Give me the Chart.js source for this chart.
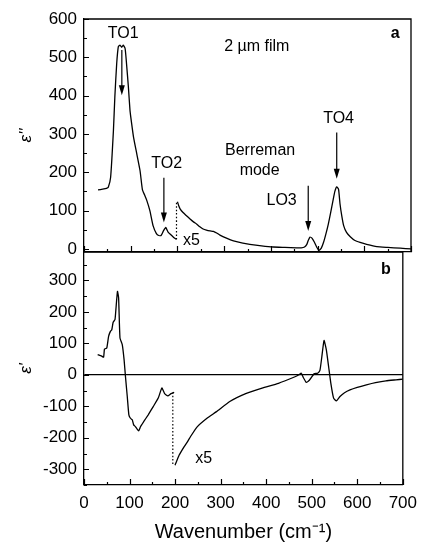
<!DOCTYPE html>
<html>
<head>
<meta charset="utf-8">
<script src="https://cdn.jsdelivr.net/npm/chart.js@4.4.1/dist/chart.umd.min.js"></script>
<style>
  html, body { margin: 0; padding: 0; background: #fff; }
  #wrap { position: relative; width: 425px; height: 544px; }
  #wrap canvas { position: absolute; left: 0; top: 0; }
</style>
</head>
<body>
<div id="wrap">
  <canvas id="imChart" width="425" height="544"></canvas>
  <canvas id="reChart" width="425" height="544"></canvas>
</div>
<script>
// eps'' (panel a), raw part up to 200 cm-1 and the x5 part above
const imLowX = [30, 40, 48, 52, 57, 63, 66, 70, 73.5, 77, 80.7, 84, 88, 91, 95, 98.5, 102, 106, 113, 120, 125, 130, 134, 141, 148, 155, 160, 165, 170, 175, 180, 186, 192, 198];
const imLowY = [154, 156, 158, 161, 187, 309, 396, 484, 528, 532, 526, 532, 523, 484, 423, 361, 327, 292, 248, 204, 155, 140, 128, 100, 60, 40, 35, 35, 47, 56, 44, 37, 30, 25];
const imHighX = [200, 203, 206, 212, 220, 227, 235, 241, 248, 255, 262, 270, 277, 285, 291, 305, 320, 340, 355, 380, 405, 430, 455, 465, 472, 477, 480, 484, 488, 493, 498, 503, 508, 513, 518, 523, 528, 533, 537, 541, 545, 548, 552, 556, 562, 570, 580, 591, 605, 627, 650, 677, 700];
const imHighY = [123, 112, 104, 95, 86, 78, 70, 65, 58, 52, 49, 47, 46, 41, 36, 28, 21, 15, 12, 8, 5, 4, 3, 3, 5, 12, 22, 31, 28, 18, 5, -4, 2, 18, 40, 65, 95, 126, 150, 162, 155, 118, 85, 60, 43, 32, 22, 17, 12, 6, 4, 2, 0];
const imJumpX = [198, 198];
const imJumpY = [25, 123];

// eps' (panel b)
const reLowX = [30, 38, 43, 45, 50, 54, 58, 61, 64, 68, 70, 73.5, 76, 79, 84, 88, 91, 95, 98.5, 102, 106, 109, 113, 120, 124, 131, 141, 152, 163, 171, 177, 184, 191, 198];
const reLowY = [64, 60, 56, 82, 85, 122, 138, 143, 167, 175, 207, 265, 244, 117, 96, 48, -5, -69, -127, -138, -143, -159, -165, -178, -165, -149, -127, -101, -74, -42, -60, -67, -60, -56];
const reHighX = [200, 209, 220, 227, 234, 248, 270, 291, 320, 355, 391, 427, 462, 472, 477, 482, 488, 493, 498, 505, 513, 518, 522, 527, 532, 537, 542, 548, 554, 562, 572, 584, 600, 620, 640, 663, 685, 700];
const reHighY = [-287, -255, -228, -213, -196, -166, -138, -117, -85, -60, -42, -27, -7, 0, 5, -10, -24, -20, -11, 3, 5, 14, 55, 109, 80, 27, -27, -74, -83, -69, -57, -48, -40, -32, -25, -19, -16, -14];
const reJumpX = [195, 195];
const reJumpY = [-56, -287];

const xTicks = [0, 100, 200, 300, 400, 500, 600, 700];

const FONT = '"Liberation Sans", Arial, Helvetica, sans-serif';
Chart.defaults.font.family = FONT;
Chart.defaults.color = '#000';

const pts = (xs, ys) => xs.map((x, i) => ({ x: x, y: ys[i] }));
const line = (xs, ys, dash) => ({
    data: pts(xs, ys),
    borderColor: '#000',
    borderWidth: dash ? 1.2 : 1.3,
    borderDash: dash ? [1.5, 2] : [],
    pointRadius: 0,
    tension: 0.15,
    fill: false
});

// frame, inward ticks, arrows and labels
const decor = {
    id: 'decor',
    afterDatasetsDraw(chart, args, opts) {
        const { ctx, chartArea: a, scales: { x, y } } = chart;
        ctx.save();
        ctx.strokeStyle = '#000';
        ctx.fillStyle = '#000';
        ctx.lineWidth = 1.3;
        ctx.beginPath();
        ctx.moveTo(a.left, a.top);
        ctx.lineTo(a.right, a.top);
        ctx.lineTo(a.right, a.bottom);
        ctx.stroke();

        ctx.lineWidth = 1.2;
        ctx.beginPath();
        x.ticks.forEach(t => {
            if (t.value % 50) return;
            const px = Math.round(x.getPixelForValue(t.value)) + 0.5;
            ctx.moveTo(px, a.bottom);
            ctx.lineTo(px, a.bottom - (t.value % 100 ? 3 : 6));
        });
        y.ticks.forEach(t => {
            if (t.value % 50) return;
            const py = Math.round(y.getPixelForValue(t.value)) + 0.5;
            ctx.moveTo(a.left, py);
            ctx.lineTo(a.left + (t.value % 100 ? 3 : 5), py);
        });
        ctx.stroke();

        (opts.arrows || []).forEach(([xv, y0, y1]) => {
            const px = x.getPixelForValue(xv);
            const p0 = y.getPixelForValue(y0);
            const p1 = y.getPixelForValue(y1);
            ctx.beginPath();
            ctx.moveTo(px, p0);
            ctx.lineTo(px, p1 - 8);
            ctx.stroke();
            ctx.beginPath();
            ctx.moveTo(px, p1);
            ctx.lineTo(px - 3, p1 - 10);
            ctx.lineTo(px + 3, p1 - 10);
            ctx.closePath();
            ctx.fill();
        });

        ctx.textAlign = 'center';
        ctx.textBaseline = 'middle';
        (opts.labels || []).forEach(l => {
            ctx.font = (l.bold ? 'bold ' : '') + (l.size || 16) + 'px ' + FONT;
            ctx.fillText(l.text, x.getPixelForValue(l.x), y.getPixelForValue(l.y));
        });
        ctx.restore();
    }
};

const tickLabel = v => (v % 100 === 0 ? v : '');

function yScale(min, max, title, zeroLine) {
    return {
        type: 'linear',
        min: min,
        max: max,
        afterFit: s => { s.width = 84; },
        ticks: { stepSize: 50, maxTicksLimit: 40, includeBounds: false, autoSkip: false, callback: tickLabel, padding: 7, font: { size: 17 } },
        grid: {
            drawTicks: false,
            lineWidth: 1.2,
            color: c => (zeroLine && c.tick && c.tick.value === 0 ? '#000' : 'rgba(0,0,0,0)')
        },
        border: { color: '#000', width: 1.3 },
        title: { display: true, text: title, font: { size: 17, style: 'italic' }, padding: { top: 16, bottom: 0 } }
    };
}

// panel a: eps''
new Chart(document.getElementById('imChart'), {
    type: 'line',
    data: {
        datasets: [
            line(imLowX, imLowY),
            line(imHighX, imHighY),
            line(imJumpX, imJumpY, true)
        ]
    },
    options: {
        responsive: false,
        animation: false,
        devicePixelRatio: 1,
        layout: { padding: { left: 0, right: 14, top: 19, bottom: 292 } },
        plugins: {
            legend: { display: false },
            tooltip: { enabled: false },
            decor: {
                arrows: [[81, 519, 401], [171, 186, 69], [480, 165, 47], [541, 304, 183]],
                labels: [
                    { text: 'TO1', x: 84, y: 563 },
                    { text: '2 \u00b5m film', x: 370, y: 528 },
                    { text: 'a', x: 666, y: 563, bold: true },
                    { text: 'TO2', x: 177, y: 222 },
                    { text: 'x5', x: 230, y: 21 },
                    { text: 'Berreman', x: 377, y: 257 },
                    { text: 'mode', x: 376, y: 204 },
                    { text: 'LO3', x: 423, y: 126 },
                    { text: 'TO4', x: 545, y: 341 }
                ]
            }
        },
        scales: {
            x: {
                type: 'linear',
                min: 0,
                max: 700,
                afterFit: s => { s.height = 0; },
                ticks: { stepSize: 50, maxTicksLimit: 40, includeBounds: false, display: false },
                grid: { display: false, drawTicks: false },
                border: { color: '#000', width: 1.3 }
            },
            y: yScale(-8, 600, "\u03b5''", false)
        }
    },
    plugins: [decor]
});

// panel b: eps'
new Chart(document.getElementById('reChart'), {
    type: 'line',
    data: {
        datasets: [
            line(reLowX, reLowY),
            line(reHighX, reHighY),
            line(reJumpX, reJumpY, true)
        ]
    },
    options: {
        responsive: false,
        animation: false,
        devicePixelRatio: 1,
        layout: { padding: { left: 0, right: 14, top: 252, bottom: 0 } },
        plugins: {
            legend: { display: false },
            tooltip: { enabled: false },
            decor: {
                labels: [
                    { text: 'b', x: 663, y: 334, bold: true },
                    { text: 'x5', x: 263, y: -265 }
                ]
            }
        },
        scales: {
            x: {
                type: 'linear',
                min: 0,
                max: 700,
                afterFit: s => { s.height = 59; },
                ticks: { stepSize: 50, maxTicksLimit: 40, includeBounds: false, autoSkip: false, callback: v => (xTicks.includes(v) ? v : ''), padding: 8, font: { size: 17 }, maxRotation: 0 },
                grid: { display: false, drawTicks: false },
                border: { color: '#000', width: 1.3 },
                title: { display: true, text: 'Wavenumber (cm\u207b\u00b9)', font: { size: 20 }, padding: { top: 4, bottom: 0 } }
            },
            y: yScale(-350, 390, "\u03b5'", true)
        }
    },
    plugins: [decor]
});
</script>
</body>
</html>
